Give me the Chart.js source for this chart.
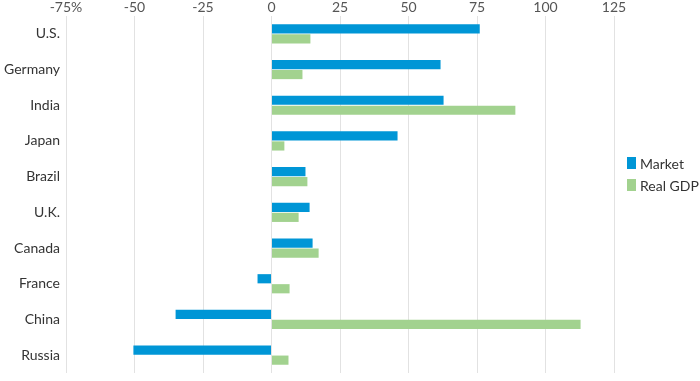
<!DOCTYPE html>
<html><head><meta charset="utf-8">
<script src="https://cdn.jsdelivr.net/npm/chart.js@4"></script>
<style>
html,body{margin:0;padding:0;background:#fff;}
#wrap{position:relative;width:700px;height:381px;}
#legend{position:absolute;left:627px;top:152px;font-family:Lato,sans-serif;font-size:14px;color:#333;}
#legend div{display:flex;align-items:center;height:22px;}
#legend span.b{display:inline-block;width:9px;height:12px;margin-right:4px;}
</style></head>
<body><div id="wrap"><canvas id="c" width="700" height="381"></canvas>
<div id="legend"></div></div>
<script>
const categories = ["U.S.","Germany","India","Japan","Brazil","U.K.","Canada","France","China","Russia"];
const marketValues = [76, 61.7, 62.8, 46, 12.4, 13.9, 15, -5.1, -35, -50.4];
const gdpValues = [14.2, 11.3, 89, 4.7, 13.1, 9.9, 17.2, 6.6, 112.8, 6.2];
const seriesNames = ["Market","Real GDP"];
const colors = ["#0096d6","#a2d28f"];

const lg = document.getElementById('legend');
seriesNames.forEach((n,i)=>{const d=document.createElement('div');d.innerHTML='<span class="b" style="background:'+colors[i]+'"></span>'+n;lg.appendChild(d);});

new Chart(document.getElementById('c'), {
  type: 'bar',
  data: {
    labels: categories,
    datasets: [
      {label: seriesNames[0], data: marketValues, backgroundColor: colors[0], categoryPercentage: 0.56, barPercentage: 0.92},
      {label: seriesNames[1], data: gdpValues, backgroundColor: colors[1], categoryPercentage: 0.56, barPercentage: 0.92}
    ]
  },
  options: {
    indexAxis: 'y',
    responsive: false,
    animation: false,
    layout: {padding: {top: 1, right: 86, bottom: 8, left: 0}},
    plugins: {legend: {display: false}, tooltip: {enabled: false}},
    scales: {
      x: {
        position: 'top', min: -75, max: 125,
        ticks: {stepSize: 25, padding: 0, color: '#555', font: {family: 'Lato, sans-serif', size: 14},
          callback: (v, i) => (i === 0 ? v + '%' : String(v))},
        grid: {color: '#e2e2e2', drawTicks: false},
        border: {display: false},
        afterFit: (s) => { s.height = 15; }
      },
      y: {
        ticks: {padding: 6, color: '#333', font: {family: 'Lato, sans-serif', size: 14}},
        grid: {display: false, drawTicks: false},
        border: {display: false},
        afterFit: (s) => { s.width = 66; s.paddingTop = 0; s.paddingBottom = 0; }
      }
    }
  }
});
</script></body></html>
